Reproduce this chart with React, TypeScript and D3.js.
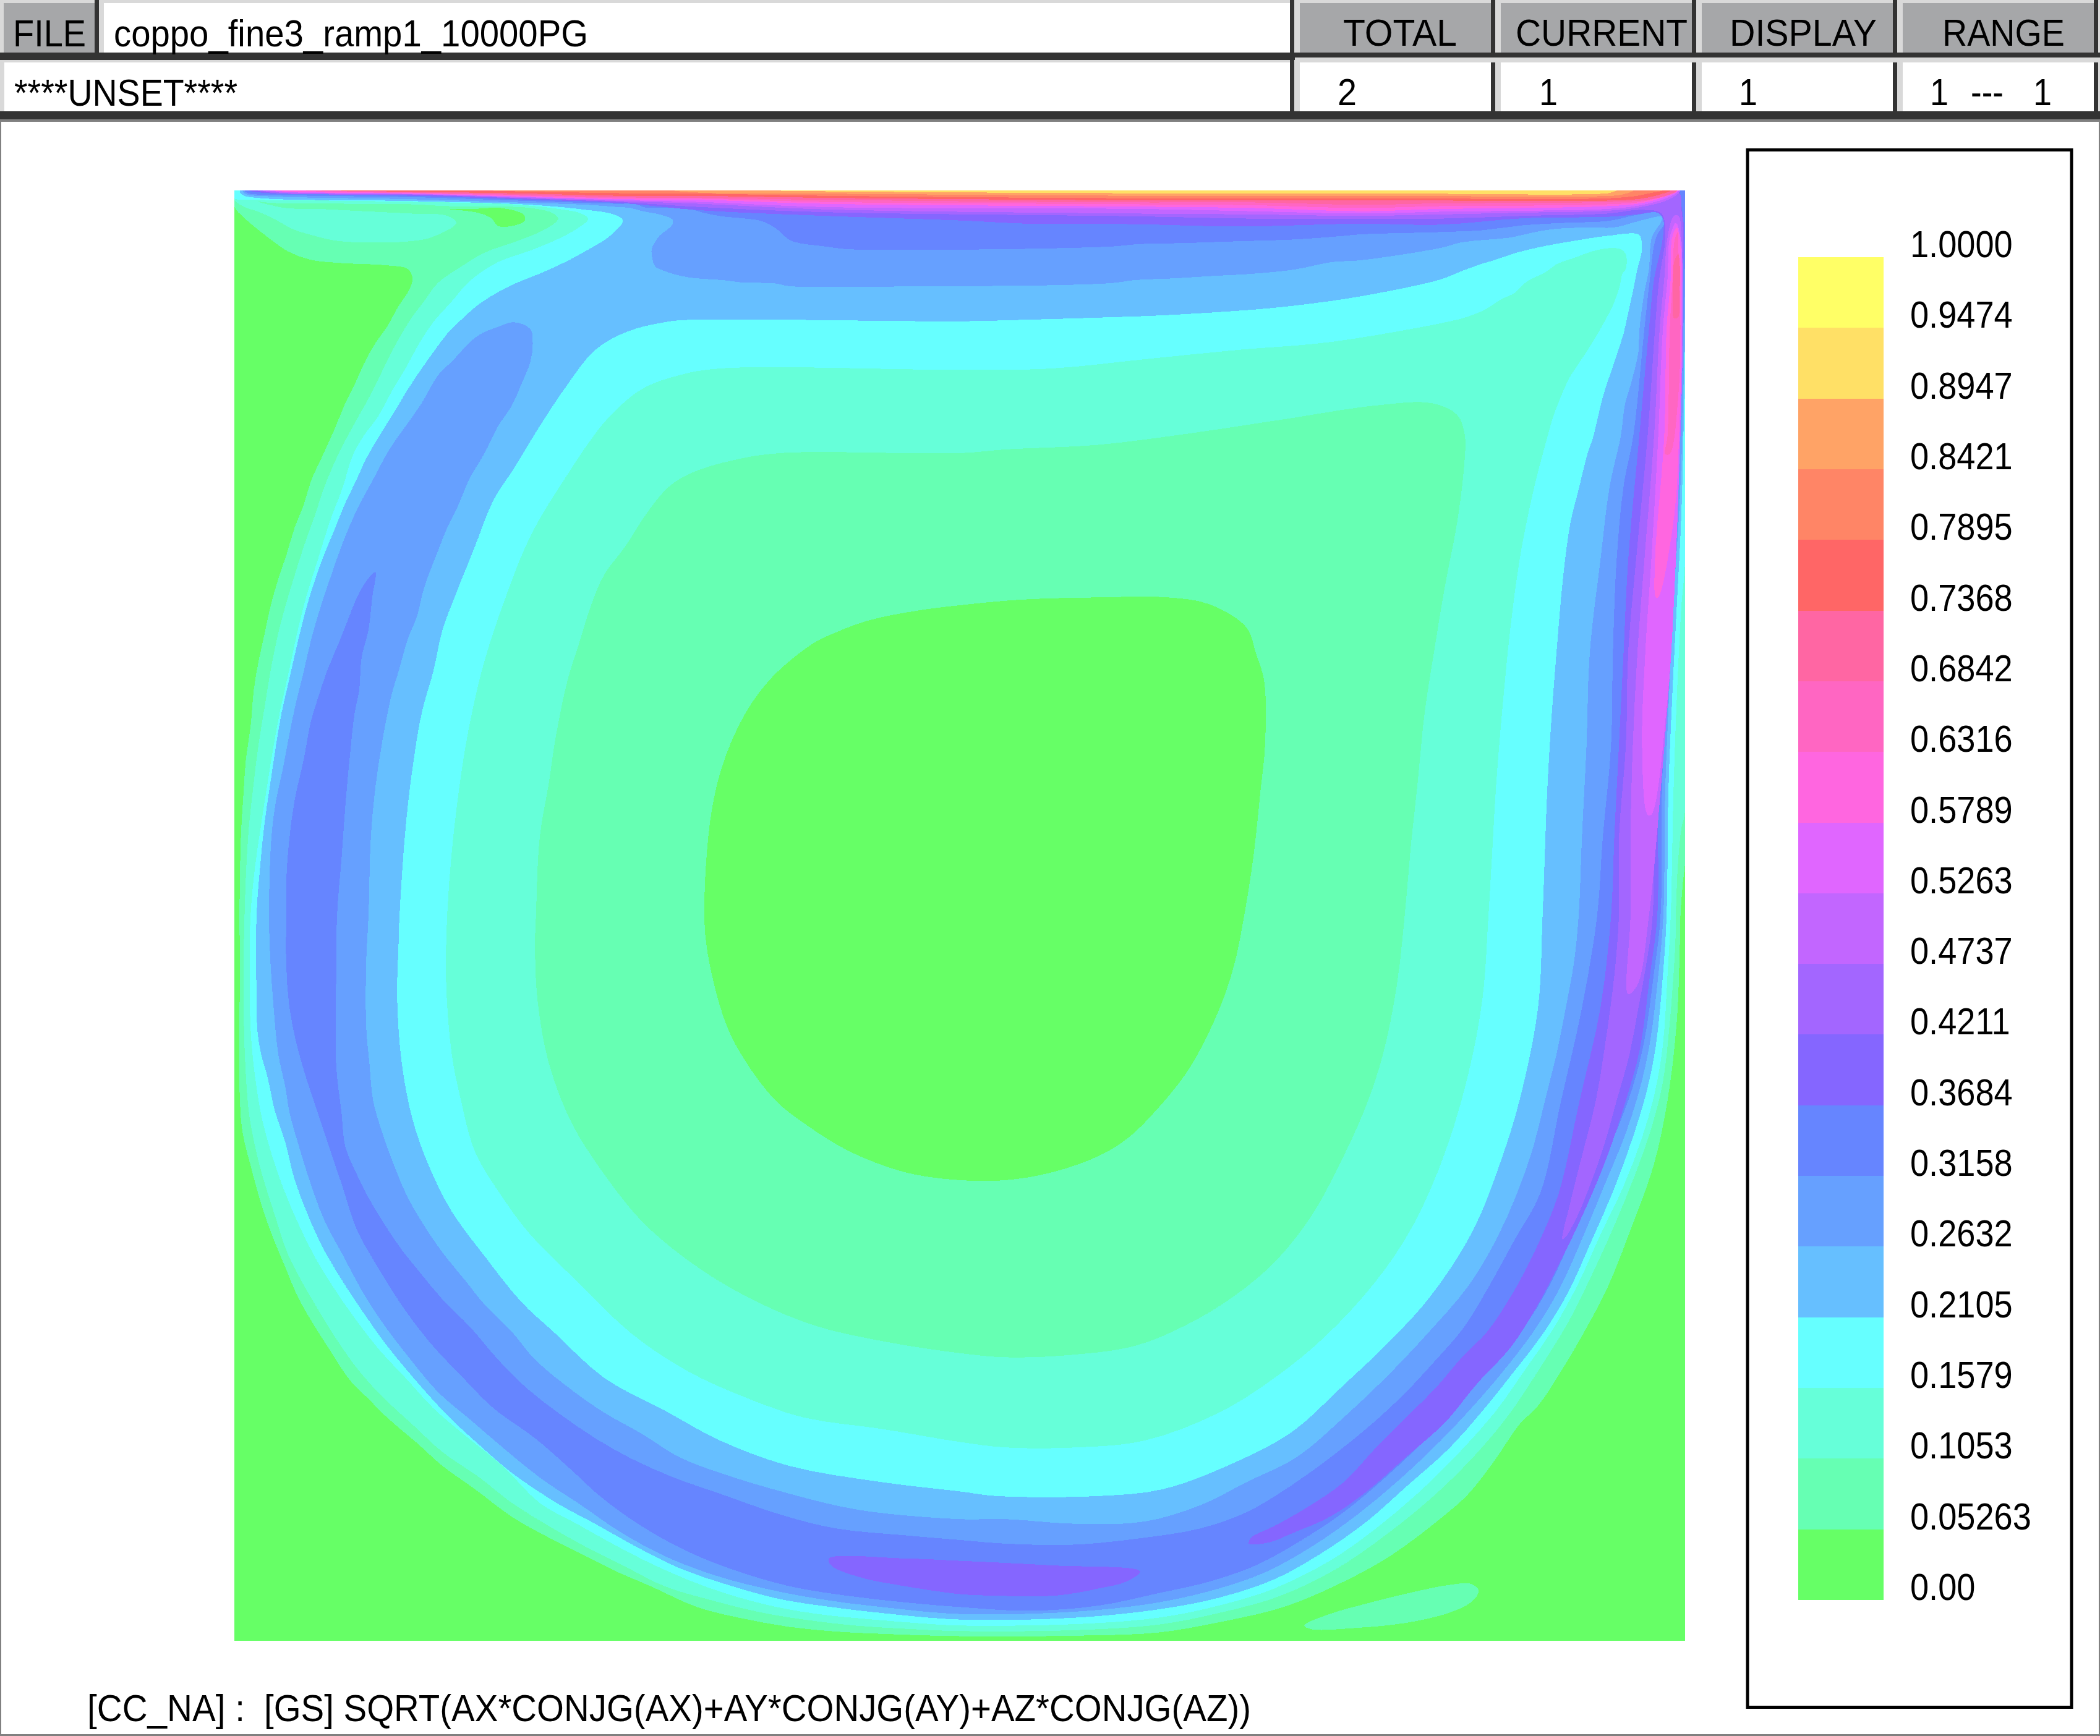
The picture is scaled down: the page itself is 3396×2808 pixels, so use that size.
import * as d3 from 'd3';

type Pt = [number, number];

// contour outlines, in cavity mesh units (0..3136, lid at y = 0)
// each quadrant of the cavity is listed in its own 0..1568 units
const cavityExtent = 3136;
const half = cavityExtent / 2;
const tr = (p: Pt[]): Pt[] => p.map(([a, b]) => [a + half, b] as Pt);
const bl = (p: Pt[]): Pt[] => p.map(([a, b]) => [a, b + half] as Pt);
const br = (p: Pt[]): Pt[] => p.map(([a, b]) => [a + half, b + half] as Pt);

const colorbarValues = ['0.00', '0.05263', '0.1053', '0.1579', '0.2105', '0.2632', '0.3158', '0.3684', '0.4211', '0.4737', '0.5263', '0.5789', '0.6316', '0.6842', '0.7368', '0.7895', '0.8421', '0.8947', '0.9474', '1.0000'];
const bandColors = ['#66ff66', '#66ffb3', '#66ffd9', '#66ffff', '#66bfff', '#66a0ff', '#6685ff', '#8566ff', '#a366ff', '#c266ff', '#e066ff', '#ff66e0', '#ff66c2', '#ff66a3', '#ff6666', '#ff8566', '#ffa366', '#ffe066', '#ffff66'];

const headerTitles = [
  { text: 'TOTAL', x: 2172, width: 184 },
  { text: 'CURRENT', x: 2451, width: 278 },
  { text: 'DISPLAY', x: 2797, width: 238 },
  { text: 'RANGE', x: 3141, width: 198 },
];
const headerValues = [
  { text: '2', x: 2163, width: 31 },
  { text: '1', x: 2489, width: 30 },
  { text: '1', x: 2812, width: 30 },
  { text: '1', x: 3121, width: 30 },
  { text: '---', x: 3187, width: 53 },
  { text: '1', x: 3288, width: 30 },
];
const headerColumns = [2094, 2419, 2744, 3069];

// level 1 outline pieces
const edge1TL: Pt[] = [[0, 35], [22, 60], [49, 83], [80, 107], [116, 132], [165, 150], [230, 157], [330, 162], [375, 170], [385, 190], [378, 215], [355, 250], [330, 295], [305, 330], [280, 375], [260, 420], [240, 460], [215, 520], [190, 575], [165, 630], [150, 680], [130, 730], [112, 790], [95, 840], [78, 900], [65, 960], [52, 1020], [42, 1080], [35, 1160], [25, 1230], [20, 1300], [14, 1400], [12, 1500], [11, 1568]];
const edge1BL: Pt[] = [[12, 100], [11, 250], [12, 400], [18, 470], [35, 540], [60, 630], [85, 700], [110, 760], [140, 830], [175, 890], [210, 945], [250, 1005], [290, 1045], [330, 1085], [400, 1145], [450, 1190], [520, 1240], [600, 1300], [680, 1345], [760, 1385], [830, 1420], [900, 1450], [1000, 1495], [1100, 1520], [1200, 1538], [1300, 1548], [1400, 1553], [1568, 1558]];
const edge1BR: Pt[] = [[250, 1557], [430, 1550], [560, 1528], [700, 1495], [820, 1445], [930, 1385], [1050, 1295], [1100, 1250], [1155, 1180], [1210, 1100], [1250, 1060], [1300, 985], [1350, 900], [1400, 805], [1450, 680], [1500, 540], [1530, 400], [1550, 230], [1557, 50], [1558, 0]];
const edge1TR: Pt[] = [[1563, 1500], [1568, 1450], [1568, 0]];
const centreGreen: Pt[] = [[1016, 1568], [1020, 1450], [1032, 1340], [1050, 1260], [1075, 1190], [1105, 1130], [1135, 1085], [1175, 1040], [1250, 980], [1295, 958], [1370, 930], [1480, 908], [1568, 897], [1698, 885], [1868, 880], [2018, 880], [2108, 895], [2188, 945], [2208, 1000], [2226, 1060], [2228, 1200], [2218, 1300], [2203, 1440], [2183, 1568], [2163, 1668], [2138, 1748], [2098, 1838], [2058, 1908], [1998, 1983], [1933, 2048], [1868, 2088], [1768, 2123], [1668, 2140], [1568, 2140], [1450, 2123], [1330, 2078], [1240, 2023], [1170, 1968], [1105, 1883], [1065, 1808], [1035, 1708], [1020, 1628]];
const lidGreenIsland: Pt[] = [[462, 40], [520, 40], [575, 38], [625, 52], [628, 65], [605, 76], [570, 77], [555, 60], [525, 48]];
const cornerIsland: Pt[] = [[745, 1535], [800, 1510], [870, 1490], [970, 1465], [1060, 1447], [1105, 1445], [1122, 1460], [1105, 1485], [1050, 1510], [960, 1530], [860, 1540], [760, 1543]];

// level 2 outline pieces
const edge2TL: Pt[] = [[0, 20], [22, 36], [49, 45], [85, 61], [125, 83], [165, 96], [230, 110], [380, 110], [430, 100], [480, 70], [460, 55], [380, 50], [280, 45], [180, 40], [110, 38], [50, 24], [80, 27], [380, 30], [460, 34], [640, 38], [690, 50], [700, 62], [670, 85], [610, 110], [540, 135], [490, 165], [440, 200], [410, 240], [380, 280], [345, 340], [320, 390], [290, 450], [262, 500], [225, 570], [195, 640], [175, 700], [150, 770], [128, 840], [110, 900], [92, 970], [78, 1040], [65, 1120], [52, 1200], [42, 1280], [32, 1370], [26, 1460], [22, 1568]];
const edge2BL: Pt[] = [[20, 100], [20, 200], [24, 330], [32, 430], [45, 500], [60, 560], [85, 640], [115, 730], [145, 790], [180, 850], [220, 915], [270, 985], [320, 1040], [390, 1105], [450, 1160], [530, 1215], [600, 1270], [680, 1320], [760, 1365], [840, 1405], [930, 1450], [1030, 1480], [1130, 1505], [1230, 1522], [1340, 1535], [1450, 1542], [1568, 1547]];
const edge2BR: Pt[] = [[250, 1545], [430, 1533], [560, 1508], [690, 1472], [810, 1415], [920, 1340], [1030, 1250], [1120, 1160], [1190, 1075], [1250, 985], [1315, 880], [1365, 780], [1415, 670], [1460, 560], [1495, 460], [1520, 360], [1535, 230], [1547, 60], [1548, 0]];
const edge2TR: Pt[] = [[1553, 1450], [1560, 1380], [1568, 1340], [1568, 0]];
const hole2: Pt[] = [[652, 1568], [660, 1400], [680, 1280], [695, 1180], [720, 1060], [745, 980], [770, 900], [800, 830], [845, 770], [890, 700], [940, 640], [990, 610], [1080, 583], [1180, 568], [1568, 568], [1668, 560], [1868, 550], [2068, 525], [2268, 495], [2468, 465], [2588, 460], [2643, 485], [2660, 530], [2658, 600], [2643, 720], [2618, 850], [2593, 1000], [2573, 1130], [2558, 1280], [2543, 1420], [2530, 1568], [2513, 1718], [2483, 1868], [2443, 1988], [2388, 2108], [2328, 2218], [2248, 2318], [2158, 2393], [2058, 2453], [1948, 2498], [1808, 2518], [1668, 2523], [1568, 2514], [1400, 2488], [1250, 2453], [1100, 2388], [980, 2313], [880, 2228], [800, 2128], [730, 2018], [680, 1888], [655, 1748], [650, 1628]];

// level 3 outline pieces
const edge3TL: Pt[] = [[0, 17], [40, 20], [200, 22], [400, 25], [600, 30], [700, 40], [750, 50], [765, 62], [745, 80], [700, 105], [640, 130], [570, 155], [510, 195], [470, 240], [430, 285], [400, 330], [370, 385], [340, 435], [310, 490], [280, 530], [255, 575], [235, 640], [205, 720], [180, 800], [155, 880], [135, 960], [118, 1040], [100, 1120], [85, 1200], [72, 1280], [58, 1370], [45, 1460], [35, 1568]];
const edge3BL: Pt[] = [[33, 150], [36, 260], [45, 350], [60, 440], [85, 530], [110, 600], [140, 670], [175, 740], [215, 805], [260, 870], [310, 935], [375, 1005], [430, 1065], [500, 1125], [580, 1190], [660, 1270], [740, 1315], [830, 1365], [920, 1410], [1030, 1455], [1150, 1490], [1260, 1510], [1380, 1522], [1480, 1530], [1568, 1535]];
const edge3BR: Pt[] = [[250, 1532], [430, 1518], [560, 1492], [680, 1455], [800, 1395], [900, 1325], [1000, 1240], [1090, 1150], [1160, 1070], [1220, 985], [1285, 890], [1335, 800], [1385, 690], [1435, 585], [1475, 480], [1502, 385], [1520, 280], [1530, 130], [1537, 0]];
const edge3TR: Pt[] = [[1543, 1300], [1550, 1100], [1560, 900], [1568, 800], [1568, 0]];
const hole3: Pt[] = [[460, 1568], [470, 1430], [485, 1300], [500, 1200], [520, 1100], [540, 1020], [565, 940], [590, 870], [625, 780], [660, 710], [710, 630], [770, 540], [810, 490], [880, 430], [960, 400], [1050, 385], [1568, 388], [1768, 385], [1968, 365], [2168, 345], [2368, 328], [2609, 287], [2663, 274], [2703, 258], [2739, 235], [2767, 222], [2794, 197], [2834, 177], [2861, 158], [2893, 147], [2938, 131], [2970, 125], [2997, 127], [3008, 138], [3008, 170], [3001, 179], [2994, 210], [2979, 251], [2965, 278], [2947, 310], [2925, 346], [2907, 373], [2884, 409], [2866, 450], [2852, 486], [2839, 531], [2808, 650], [2778, 800], [2758, 950], [2743, 1100], [2728, 1280], [2718, 1450], [2711, 1568], [2698, 1748], [2668, 1908], [2618, 2078], [2548, 2238], [2468, 2358], [2358, 2478], [2248, 2568], [2128, 2643], [1968, 2703], [1818, 2718], [1668, 2718], [1568, 2706], [1400, 2678], [1230, 2653], [1100, 2608], [980, 2553], [860, 2473], [740, 2358], [640, 2258], [580, 2178], [520, 2078], [490, 1968], [470, 1868], [458, 1718]];

// level 4 outline pieces
const edge4TL: Pt[] = [[12, 0], [18, 10], [60, 17], [380, 23], [640, 31], [760, 42], [820, 52], [840, 65], [810, 100], [770, 125], [715, 155], [660, 180], [610, 200], [570, 220], [530, 245], [490, 280], [460, 310], [430, 350], [405, 385], [375, 430], [345, 480], [320, 520], [285, 580], [262, 630], [238, 680], [218, 730], [195, 785], [175, 840], [155, 905], [135, 985], [118, 1060], [102, 1130], [90, 1200], [78, 1280], [65, 1370], [55, 1470], [48, 1568]];
const edge4BL: Pt[] = [[48, 180], [50, 250], [58, 300], [72, 350], [87, 420], [110, 490], [130, 570], [160, 650], [195, 725], [240, 800], [280, 860], [330, 930], [405, 1020], [465, 1085], [530, 1145], [600, 1205], [700, 1272], [780, 1315], [860, 1360], [960, 1410], [1060, 1445], [1180, 1478], [1290, 1495], [1400, 1508], [1568, 1522]];
const edge4BR: Pt[] = [[250, 1518], [430, 1500], [560, 1475], [680, 1435], [780, 1380], [880, 1310], [965, 1235], [1060, 1150], [1135, 1065], [1195, 990], [1260, 905], [1315, 815], [1365, 705], [1415, 590], [1455, 480], [1485, 380], [1505, 280], [1520, 130], [1528, 0]];
const edge4TR: Pt[] = [[1532, 1300], [1540, 1100], [1550, 900], [1560, 700], [1566, 450], [1568, 266], [1568, 0]];
const hole4: Pt[] = [[357, 1568], [370, 1380], [385, 1250], [405, 1130], [430, 1040], [450, 950], [480, 870], [520, 770], [560, 670], [605, 600], [660, 510], [720, 420], [780, 345], [850, 305], [930, 285], [980, 280], [1568, 283], [1698, 280], [1868, 275], [2008, 270], [2212, 257], [2301, 248], [2435, 229], [2609, 192], [2654, 174], [2699, 158], [2726, 150], [2767, 136], [2834, 120], [2897, 109], [2970, 98], [3035, 95], [3042, 109], [3042, 134], [3033, 170], [3022, 224], [3012, 270], [3003, 310], [2990, 350], [2977, 390], [2963, 430], [2950, 480], [2938, 531], [2925, 570], [2905, 650], [2888, 720], [2873, 830], [2858, 1000], [2848, 1130], [2838, 1300], [2828, 1568], [2818, 1768], [2778, 1968], [2738, 2098], [2678, 2248], [2588, 2388], [2498, 2488], [2398, 2583], [2288, 2683], [2168, 2748], [2008, 2808], [1868, 2823], [1648, 2823], [1568, 2813], [1400, 2793], [1200, 2758], [1050, 2703], [930, 2638], [800, 2568], [690, 2468], [620, 2403], [540, 2303], [470, 2208], [420, 2108], [385, 2008], [362, 1888], [352, 1748], [355, 1628]];

// level 5 outline pieces
const edge5Lid: Pt[] = [[18, 0], [25, 8], [80, 13], [380, 19], [640, 27], [760, 31], [830, 36], [857, 38], [883, 45], [919, 52], [947, 63], [947, 74], [919, 98], [908, 114], [902, 127], [904, 150], [910, 165], [924, 172], [950, 181], [982, 188], [1026, 192], [1057, 194], [1097, 199], [1169, 201], [1200, 207], [1365, 208], [1568, 207], [1768, 205], [1900, 200], [1945, 194], [2034, 190], [2114, 185], [2190, 181], [2292, 171], [2372, 155], [2435, 151], [2609, 124], [2654, 112], [2703, 107], [2758, 102], [2803, 92], [2848, 84], [2925, 80], [2983, 80], [3037, 66], [3085, 57], [3085, 66], [3064, 102], [3058, 170], [3049, 215], [3042, 260], [3037, 305], [3035, 350], [3019, 418], [3006, 463], [2997, 531], [2973, 640], [2953, 800], [2930, 1000], [2923, 1200], [2913, 1400], [2906, 1568]];
const inner5BR: Pt[] = [[1328, 100], [1310, 200], [1290, 300], [1265, 400], [1240, 500], [1205, 600], [1160, 700], [1100, 800], [1010, 905], [920, 1000], [830, 1085], [730, 1170], [620, 1225], [520, 1275], [400, 1310], [250, 1315], [100, 1305], [0, 1305]];
const inner5BL: Pt[] = [[1350, 1285], [1200, 1250], [1050, 1205], [960, 1170], [880, 1120], [800, 1075], [735, 1030], [650, 960], [600, 900], [540, 840], [500, 790], [455, 735], [410, 670], [375, 610], [345, 540], [320, 470], [300, 400], [292, 320], [285, 240], [285, 100], [290, 0]];
const lobe5TL: Pt[] = [[295, 1400], [305, 1290], [320, 1190], [340, 1090], [355, 1040], [375, 970], [395, 920], [410, 860], [440, 780], [460, 730], [480, 690], [510, 620], [540, 570], [570, 510], [600, 465], [620, 420], [640, 370], [645, 330], [640, 300], [605, 285], [570, 295], [525, 315], [470, 370], [440, 400], [405, 460], [370, 510], [335, 560], [300, 625], [265, 690], [235, 760], [210, 830], [185, 905], [165, 975], [150, 1040], [135, 1100], [118, 1180], [105, 1250], [90, 1320], [80, 1400], [75, 1568]];
const outer5BL: Pt[] = [[78, 100], [85, 200], [95, 300], [110, 370], [120, 430], [140, 500], [165, 580], [195, 660], [235, 735], [275, 810], [320, 880], [385, 965], [440, 1030], [510, 1090], [580, 1150], [660, 1215], [750, 1275], [830, 1330], [930, 1385], [1050, 1430], [1170, 1460], [1280, 1480], [1400, 1495], [1568, 1510]];
const outer5BR: Pt[] = [[250, 1505], [430, 1485], [560, 1455], [660, 1420], [760, 1365], [860, 1295], [950, 1220], [1040, 1135], [1115, 1055], [1175, 985], [1240, 900], [1295, 810], [1345, 700], [1395, 580], [1440, 470], [1470, 375], [1492, 275], [1510, 130], [1521, 0]];
const outer5TR: Pt[] = [[1525, 1300], [1533, 1100], [1542, 900], [1555, 700], [1562, 531], [1566, 350], [1568, 230], [1568, 0]];

// level 6 outline pieces
const edge6Lid: Pt[] = [[22, 0], [30, 6], [100, 10], [400, 15], [640, 23], [830, 29], [866, 29], [888, 37], [919, 37], [982, 40], [1017, 49], [1053, 56], [1106, 61], [1142, 67], [1169, 81], [1200, 107], [1222, 114], [1276, 121], [1325, 127], [1568, 128], [1778, 125], [1900, 121], [1958, 116], [2047, 114], [2167, 110], [2292, 106], [2390, 99], [2435, 95], [2609, 90], [2699, 86], [2789, 75], [2880, 70], [2970, 66], [3037, 52], [3087, 48], [3094, 66], [3073, 102], [3060, 192], [3048, 300], [3024, 531], [3003, 640], [2988, 800], [2980, 1000], [2976, 1200], [2958, 1400], [2946, 1568]];
const inner6BR: Pt[] = [[1345, 200], [1300, 400], [1255, 600], [1200, 700], [1145, 800], [1090, 890], [1030, 960], [960, 1035], [890, 1100], [810, 1165], [720, 1230], [620, 1290], [520, 1325], [400, 1345], [250, 1360], [100, 1358], [0, 1350]];
const inner6BL: Pt[] = [[1450, 1340], [1300, 1325], [1180, 1295], [1050, 1250], [950, 1215], [860, 1175], [780, 1130], [700, 1075], [630, 1020], [570, 960], [510, 890], [450, 830], [400, 770], [360, 720], [320, 660], [290, 610], [265, 560], [240, 500], [232, 430], [220, 320], [220, 140], [222, 0]];
const lobe6TL: Pt[] = [[232, 1440], [240, 1330], [250, 1220], [260, 1130], [270, 1080], [275, 1010], [290, 950], [298, 880], [305, 825], [285, 845], [265, 880], [245, 930], [225, 980], [200, 1040], [180, 1100], [165, 1150], [150, 1230], [130, 1320], [118, 1410], [112, 1500], [112, 1568]];
const outer6BL: Pt[] = [[112, 100], [118, 190], [135, 280], [155, 350], [175, 410], [205, 500], [235, 590], [265, 680], [310, 760], [360, 840], [420, 920], [495, 1000], [560, 1065], [650, 1130], [730, 1200], [790, 1255], [880, 1320], [980, 1375], [1080, 1415], [1200, 1450], [1320, 1470], [1450, 1485], [1568, 1495]];
const outer6BR: Pt[] = [[150, 1503], [300, 1492], [430, 1465], [540, 1440], [640, 1405], [740, 1350], [830, 1290], [920, 1215], [1010, 1130], [1090, 1045], [1150, 975], [1220, 890], [1275, 800], [1325, 690], [1375, 570], [1420, 465], [1455, 370], [1480, 270], [1500, 130], [1515, 0]];
const outer6TR: Pt[] = [[1518, 1300], [1526, 1100], [1535, 900], [1550, 700], [1558, 531], [1563, 350], [1568, 130], [1568, 0]];

// level 7 to 17: lid bands, right wall strip and the tail along the lower right curve
const edge7: Pt[] = [[30, 0], [60, 5], [200, 8], [400, 12], [640, 20], [830, 27], [1008, 43], [1276, 55], [1568, 65], [1718, 72], [1945, 73], [2168, 78], [2435, 72], [2609, 74], [2789, 60], [2970, 57], [3030, 52], [3075, 48], [3088, 60], [3088, 102], [3069, 192], [3058, 300], [3037, 531], [3013, 800], [3003, 1000], [2993, 1200], [2983, 1400], [2976, 1568], [2953, 1768], [2908, 1968], [2863, 2168], [2823, 2268], [2773, 2368], [2708, 2468], [2658, 2518], [2598, 2588], [2528, 2658], [2468, 2718], [2398, 2793], [2318, 2848], [2248, 2888], [2198, 2913], [2193, 2926], [2238, 2923], [2288, 2903], [2368, 2868], [2448, 2813], [2528, 2743], [2618, 2663], [2688, 2578], [2758, 2503], [2813, 2418], [2868, 2313], [2918, 2208], [2968, 2088], [3008, 1968], [3038, 1858], [3060, 1698], [3076, 1568], [3078, 1300], [3088, 1100], [3098, 900], [3113, 700], [3123, 531], [3128, 350], [3132, 170], [3134, 100], [3132, 60], [3125, 15], [3122, 0]];
const bottomLens7: Pt[] = [[1285, 2958], [1450, 2958], [1568, 2963], [1768, 2973], [1958, 2986], [1928, 3008], [1868, 3023], [1778, 3038], [1628, 3038], [1568, 3035], [1450, 3018], [1350, 2998], [1290, 2973]];
const edge8: Pt[] = [[50, 0], [90, 6], [400, 10], [640, 18], [830, 25], [1008, 36], [1276, 47], [1945, 56], [2200, 61], [2435, 61], [2609, 61], [2789, 55], [2970, 50], [3040, 42], [3085, 50], [3093, 102], [3080, 192], [3071, 300], [3055, 531], [3030, 800], [3013, 1000], [3008, 1200], [2993, 1400], [2993, 1568], [2983, 1698], [2963, 1848], [2943, 1968], [2913, 2088], [2888, 2188], [2871, 2268], [2878, 2263], [2903, 2218], [2928, 2158], [2963, 2058], [2988, 1968], [3016, 1868], [3035, 1768], [3053, 1668], [3066, 1568], [3070, 1300], [3082, 1100], [3093, 900], [3110, 700], [3121, 531], [3127, 350], [3130, 170], [3132, 100], [3128, 40], [3118, 0]];
const lid9: Pt[] = [[60, 0], [100, 5], [400, 9], [640, 17], [830, 23], [1008, 29], [1276, 41], [1945, 50], [2200, 52], [2435, 55], [2609, 52], [2789, 48], [2970, 44], [3040, 36], [3100, 20], [3125, 0]];
const lid10: Pt[] = [[75, 0], [120, 4], [400, 8], [640, 15], [830, 21], [1008, 25], [1276, 36], [1945, 40], [2200, 45], [2435, 50], [2609, 46], [2789, 44], [2970, 40], [3040, 32], [3095, 17], [3122, 0]];
const lid11: Pt[] = [[85, 0], [120, 3], [400, 7], [640, 14], [830, 19], [1008, 20.5], [1276, 29], [1945, 35], [2200, 38], [2435, 45], [2609, 40], [2789, 38], [2970, 34], [3040, 28], [3092, 14], [3120, 0]];
const lid12: Pt[] = [[150, 0], [200, 3], [400, 6], [640, 12], [830, 17], [1008, 18], [1276, 25], [1945, 30], [2200, 32], [2435, 38], [2609, 34], [2789, 33], [2970, 30], [3040, 25], [3090, 12], [3118, 0]];
const lid13: Pt[] = [[178, 0], [400, 5], [640, 10], [830, 15], [1008, 16], [1276, 20.5], [1945, 26], [2200, 26], [2435, 31], [2609, 28], [2789, 27], [2970, 25], [3050, 21], [3100, 10], [3119, 0]];
const lid14: Pt[] = [[210, 0], [400, 3], [640, 7], [830, 11.6], [1008, 12], [1276, 16], [1945, 21.4], [2435, 21.4], [2609, 22], [2970, 22], [3040, 18], [3085, 8], [3105, 0]];
const lid15: Pt[] = [[550, 0], [830, 6], [1008, 7], [1276, 11.6], [1945, 17], [2435, 17], [2970, 17], [3030, 12], [3060, 6], [3087, 0]];
const lid16: Pt[] = [[950, 0], [1008, 5], [1276, 7], [1945, 11.6], [2435, 11.6], [2970, 12], [3000, 9], [3024, 0]];
const lid17: Pt[] = [[1160, 0], [1276, 2], [1945, 6.2], [2435, 6.2], [2970, 6], [2980, 3], [2988, 0]];
const strip9: Pt[] = [[3112, 55], [3098, 102], [3091, 192], [3081, 300], [3069, 531], [3048, 800], [3033, 1000], [3023, 1200], [3018, 1400], [3018, 1568], [3013, 1738], [3033, 1718], [3058, 1568], [3083, 1300], [3106, 1000], [3126, 531], [3131, 300], [3128, 100], [3122, 55]];
const strip10: Pt[] = [[3116, 70], [3103, 102], [3098, 192], [3088, 300], [3078, 531], [3063, 800], [3050, 1000], [3043, 1200], [3055, 1350], [3063, 1350], [3098, 1100], [3116, 800], [3125, 531], [3130, 300], [3126, 100]];
const strip11: Pt[] = [[3118, 80], [3108, 102], [3105, 192], [3096, 300], [3091, 531], [3071, 800], [3073, 880], [3078, 880], [3113, 700], [3123, 531], [3128, 300], [3124, 100]];
const strip12: Pt[] = [[3120, 90], [3113, 110], [3109, 192], [3103, 300], [3098, 531], [3093, 570], [3103, 570], [3121, 450], [3126, 300], [3121, 110]];
const strip13: Pt[] = [[3121, 138], [3125, 170], [3124, 224], [3121, 274], [3112, 276], [3109, 242], [3110, 179], [3113, 152]];

const levelRings: Pt[][][] = [
  [[...edge1TL, ...bl(edge1BL), ...br(edge1BR), ...tr(edge1TR), [0, 0]], centreGreen, lidGreenIsland, br(cornerIsland)],
  [[...edge2TL, ...bl(edge2BL), ...br(edge2BR), ...tr(edge2TR), [0, 0]], hole2],
  [[...edge3TL, ...bl(edge3BL), ...br(edge3BR), ...tr(edge3TR), [0, 0]], hole3],
  [[...edge4TL, ...bl(edge4BL), ...br(edge4BR), ...tr(edge4TR)], hole4],
  [[...edge5Lid, ...br(inner5BR), ...bl(inner5BL), ...lobe5TL, ...bl(outer5BL), ...br(outer5BR), ...tr(outer5TR)]],
  [[...edge6Lid, ...br(inner6BR), ...bl(inner6BL), ...lobe6TL, ...bl(outer6BL), ...br(outer6BR), ...tr(outer6TR)]],
  [edge7, bottomLens7],
  [edge8],
  [lid9, strip9],
  [lid10, strip10],
  [lid11, strip11],
  [lid12, strip12],
  [lid13, strip13],
  [lid14],
  [lid15],
  [lid16],
  [lid17],
];

const width = 3396;
const height = 2808;
const sans = '"Liberation Sans", Arial, sans-serif';

function Label({ x, y, text, w }: { x: number; y: number; text: string; w: number }) {
  return (
    <text x={x} y={y} fontFamily={sans} fontSize={61} fill="#000" textLength={w} lengthAdjust="spacingAndGlyphs" style={{ whiteSpace: 'pre' }}>
      {text}
    </text>
  );
}

export default function App() {
  const x = d3.scaleLinear().domain([0, cavityExtent]).range([379, 2725]);
  const y = d3.scaleLinear().domain([0, cavityExtent]).range([308, 2654]);
  const contourLine = d3.line<Pt>()
    .x(d => x(d[0]))
    .y(d => y(d[1]))
    .curve(d3.curveCatmullRomClosed.alpha(0.5));

  // colorbar
  const barY = d3.scaleLinear().domain([0, bandColors.length]).range([2588, 416]);

  return (
    <svg width={width} height={height} viewBox={`0 0 ${width} ${height}`} style={{ position: 'absolute', left: 0, top: 0, display: 'block', background: '#fff' }}>
      <defs>
        <clipPath id="cavity">
          <rect x={x(0)} y={y(0)} width={x(cavityExtent) - x(0)} height={y(cavityExtent) - y(0)} />
        </clipPath>
      </defs>

      {/* header bars */}
      <rect x={0} y={0} width={width} height={197} fill="#d9d9d9" />
      <rect x={6} y={5} width={147} height={80} fill="#a6a7a9" />
      <rect x={168} y={5} width={1918} height={80} fill="#fff" />
      <rect x={0} y={85} width={2094} height={12} fill="#333" />
      <rect x={2094} y={85} width={width - 2094} height={8} fill="#333" />
      <rect x={153} y={0} width={7} height={97} fill="#333" />
      <rect x={7} y={101} width={2079} height={79} fill="#fff" />
      <rect x={0} y={180} width={width} height={13} fill="#333" />
      <rect x={0} y={193} width={width} height={4} fill="#808080" />
      <rect x={2086} y={0} width={7} height={193} fill="#333" />
      {headerColumns.map(cx => (
        <g key={cx}>
          <rect x={cx + 8} y={5} width={309} height={80} fill="#a6a7a9" />
          <rect x={cx + 317} y={0} width={7} height={93} fill="#333" />
          <rect x={cx + 8} y={101} width={309} height={79} fill="#fff" />
          <rect x={cx + 317} y={101} width={7} height={92} fill="#333" />
        </g>
      ))}
      <rect x={0} y={197} width={2} height={height - 197} fill="#808080" />
      <rect x={width - 2} y={197} width={2} height={height - 197} fill="#808080" />
      <rect x={0} y={height - 3} width={width} height={3} fill="#808080" />

      <Label x={21} y={75} text="FILE" w={118} />
      <Label x={184} y={75} text="coppo_fine3_ramp1_10000PG" w={767} />
      <Label x={23} y={171} text="****UNSET****" w={361} />
      {headerTitles.map(d => <Label key={d.text} x={d.x} y={74} text={d.text} w={d.width} />)}
      {headerValues.map(d => <Label key={d.x} x={d.x} y={170} text={d.text} w={d.width} />)}

      {/* contour bands, lowest first */}
      <g clipPath="url(#cavity)" shapeRendering="crispEdges">
        <rect x={x(0)} y={y(0)} width={x(cavityExtent) - x(0)} height={y(cavityExtent) - y(0)} fill={bandColors[0]} />
        {levelRings.map((rings, i) => (
          <path key={i} d={rings.map(r => contourLine(r)).join('')} fill={bandColors[i + 1]} fillRule="evenodd" />
        ))}
      </g>

      {/* colorbar */}
      <rect x={2826} y={242.5} width={524} height={2519} fill="none" stroke="#000" strokeWidth={5} />
      {bandColors.map((c, i) => (
        <rect key={c} x={2908} y={barY(i + 1)} width={138} height={barY(i) - barY(i + 1)} fill={c} shapeRendering="crispEdges" />
      ))}
      {colorbarValues.map((v, i) => (
        <text key={v} transform={`translate(3089,${barY(i)}) scale(0.888,1)`} fontFamily={sans} fontSize={61} fill="#000">{v}</text>
      ))}

      <Label x={141} y={2784} text="[CC_NA] :" w={255} />
      <Label x={427} y={2784} text="[GS] SQRT(AX*CONJG(AX)+AY*CONJG(AY)+AZ*CONJG(AZ))" w={1596} />
    </svg>
  );
}
